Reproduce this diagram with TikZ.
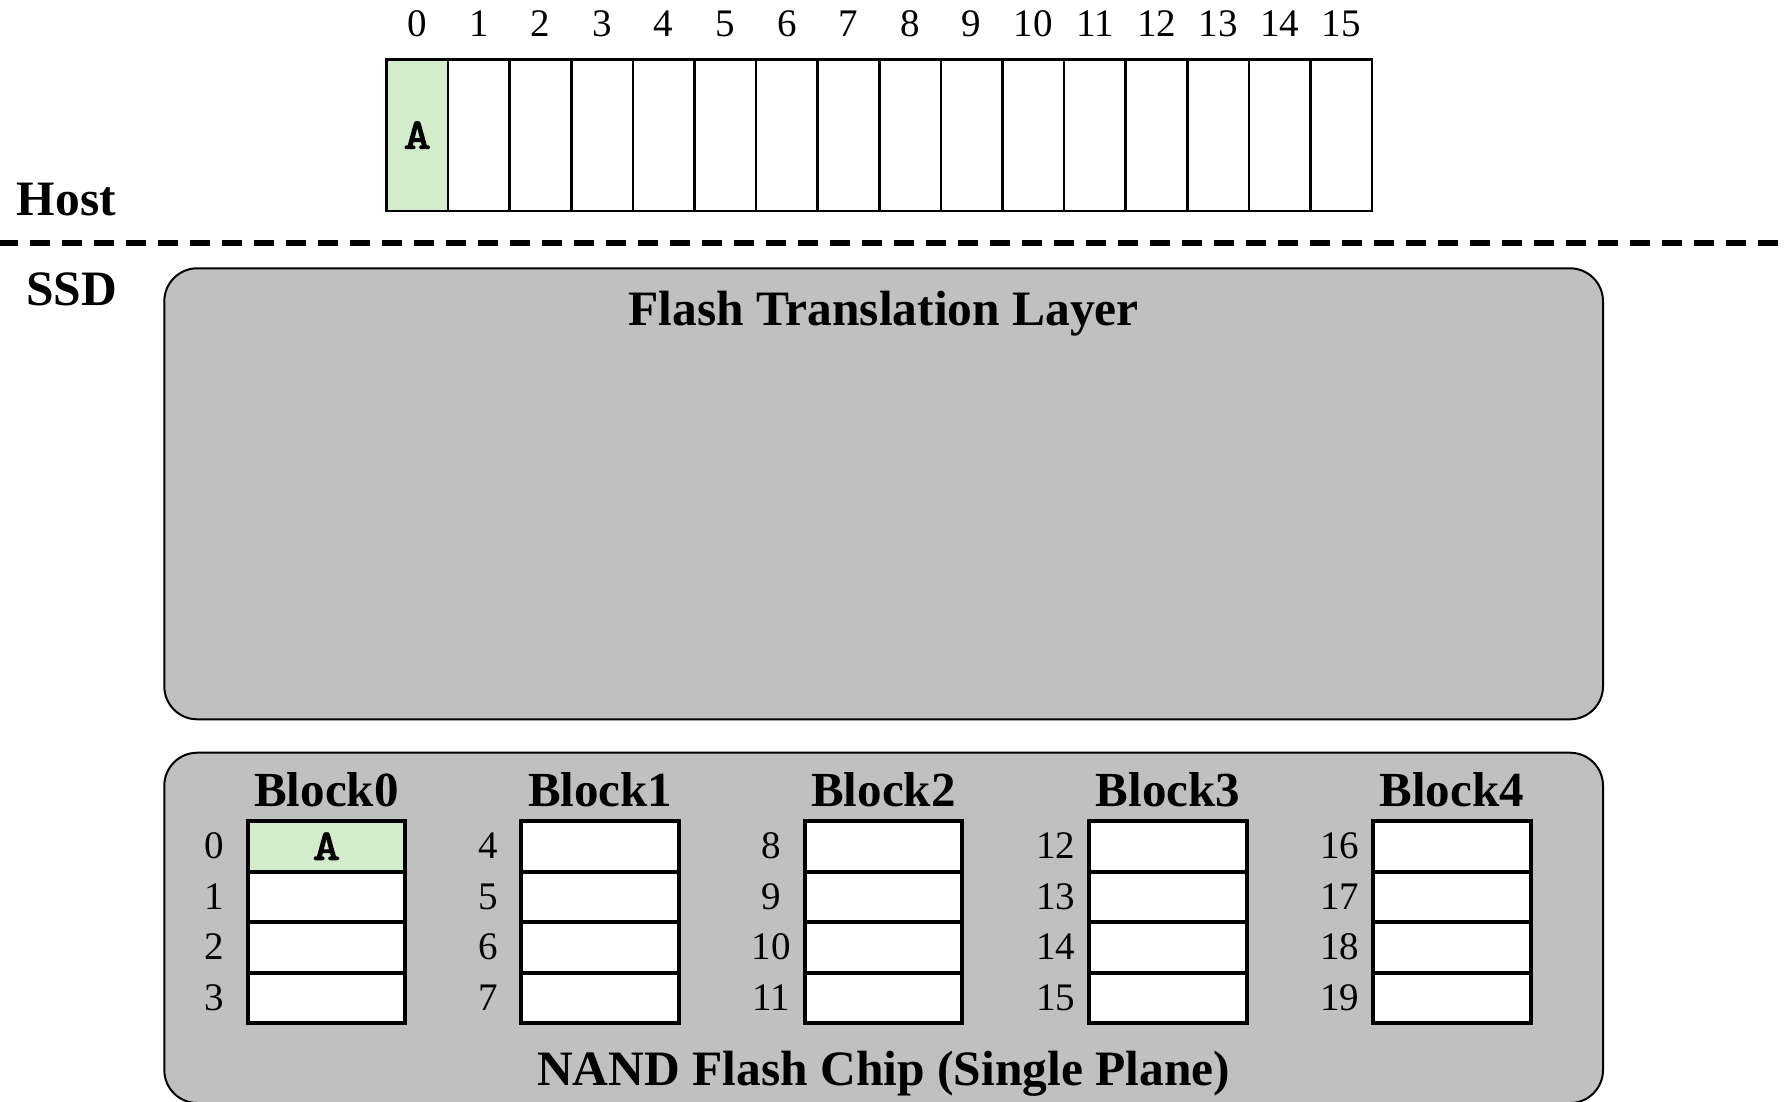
\documentclass[tikz,border=0pt]{standalone}
\usepackage{fontspec}
\setmainfont{Liberation Serif}
\newfontfamily\courierA{lmmono10-regular.otf}[FakeBold=3,FakeStretch=1.2]
\definecolor{boxgray}{HTML}{C0C0C0}
\definecolor{cellgreen}{RGB}{210,236,204}
\begin{document}
\begin{tikzpicture}[x=1pt,y=-1pt,
  hostcell/.style={draw, line width=2.5pt, minimum width=61.6pt, minimum height=151.7pt,
    inner sep=0pt, outer sep=0pt, font=\courierA\fontsize{43}{48}\selectfont},
  blockcell/.style={draw, line width=4pt, minimum width=157.5pt, minimum height=50.5pt,
    inner sep=0pt, outer sep=0pt, font=\courierA\fontsize{43}{48}\selectfont},
  numlabel/.style={anchor=base, inner sep=0pt, font=\fontsize{39}{44}\selectfont},
  blocklabel/.style={anchor=base, inner sep=0pt, font=\bfseries\fontsize{49}{54}\selectfont},
  headlabel/.style={inner sep=0pt, font=\bfseries\fontsize{49.5}{55}\selectfont},
  panel/.style={draw, line width=2pt, fill=boxgray, rounded corners=33pt,
    minimum width=1438.7pt, inner sep=0pt, outer sep=0pt}
]
\useasboundingbox (0,0) rectangle (1787,1101);

% Host / SSD labels
\node[headlabel, anchor=base west] (host) at (16.7,215) {Host};
\node[headlabel, anchor=base west] (ssd) at (26,305) {SSD};

% dashed separator
\coordinate (dl) at (0,243);
\coordinate (dr) at (1787,243);
\draw[line width=6pt, dash pattern=on 20pt off 12pt, dash phase=2pt] (dl) -- (dr);

% panels
\node[panel, minimum height=451pt] (ftl) at (883.65,493.8) {};
\node[headlabel, anchor=base] (ftltitle) at (883.65,325) {Flash Translation Layer};
\node[panel, minimum height=350.3pt] (nand) at (883.65,927.85) {};
\node[headlabel, anchor=base] (nandtitle) at (883.65,1085) {NAND Flash Chip (Single Plane)};

% host logical pages
\foreach \i in {0,...,15} {
  \ifnum\i=0 \def\cellfill{cellgreen}\def\celltext{A}\else\def\cellfill{white}\def\celltext{}\fi
  \node[hostcell, fill=\cellfill] (h\i) at ({386.5+61.6*(\i+0.5)},135.2) {\celltext};
  \node[numlabel] (t\i) at ({386.5+61.6*(\i+0.5)},36.7) {\i};
}

% flash blocks
\foreach \j/\L in {0/245.7,1/519.4,2/802.7,3/1087.3,4/1371} {
  \node[blocklabel] (bl\j) at ({\L+80.75},806.7) {Block\j};
  \foreach \k in {0,1,2,3} {
    \pgfmathtruncatemacro\p{4*\j+\k}
    \ifnum\p=0 \def\cellfill{cellgreen}\def\celltext{A}\else\def\cellfill{white}\def\celltext{}\fi
    \node[blockcell, fill=\cellfill] (p\p) at ({\L+80.75},{821+50.5*(\k+0.5)}) {\celltext};
    \node[numlabel] (n\p) at ({\L-31.5},{821+50.5*(\k+0.5)+12.5}) {\p};
  }
}
\end{tikzpicture}
\end{document}
